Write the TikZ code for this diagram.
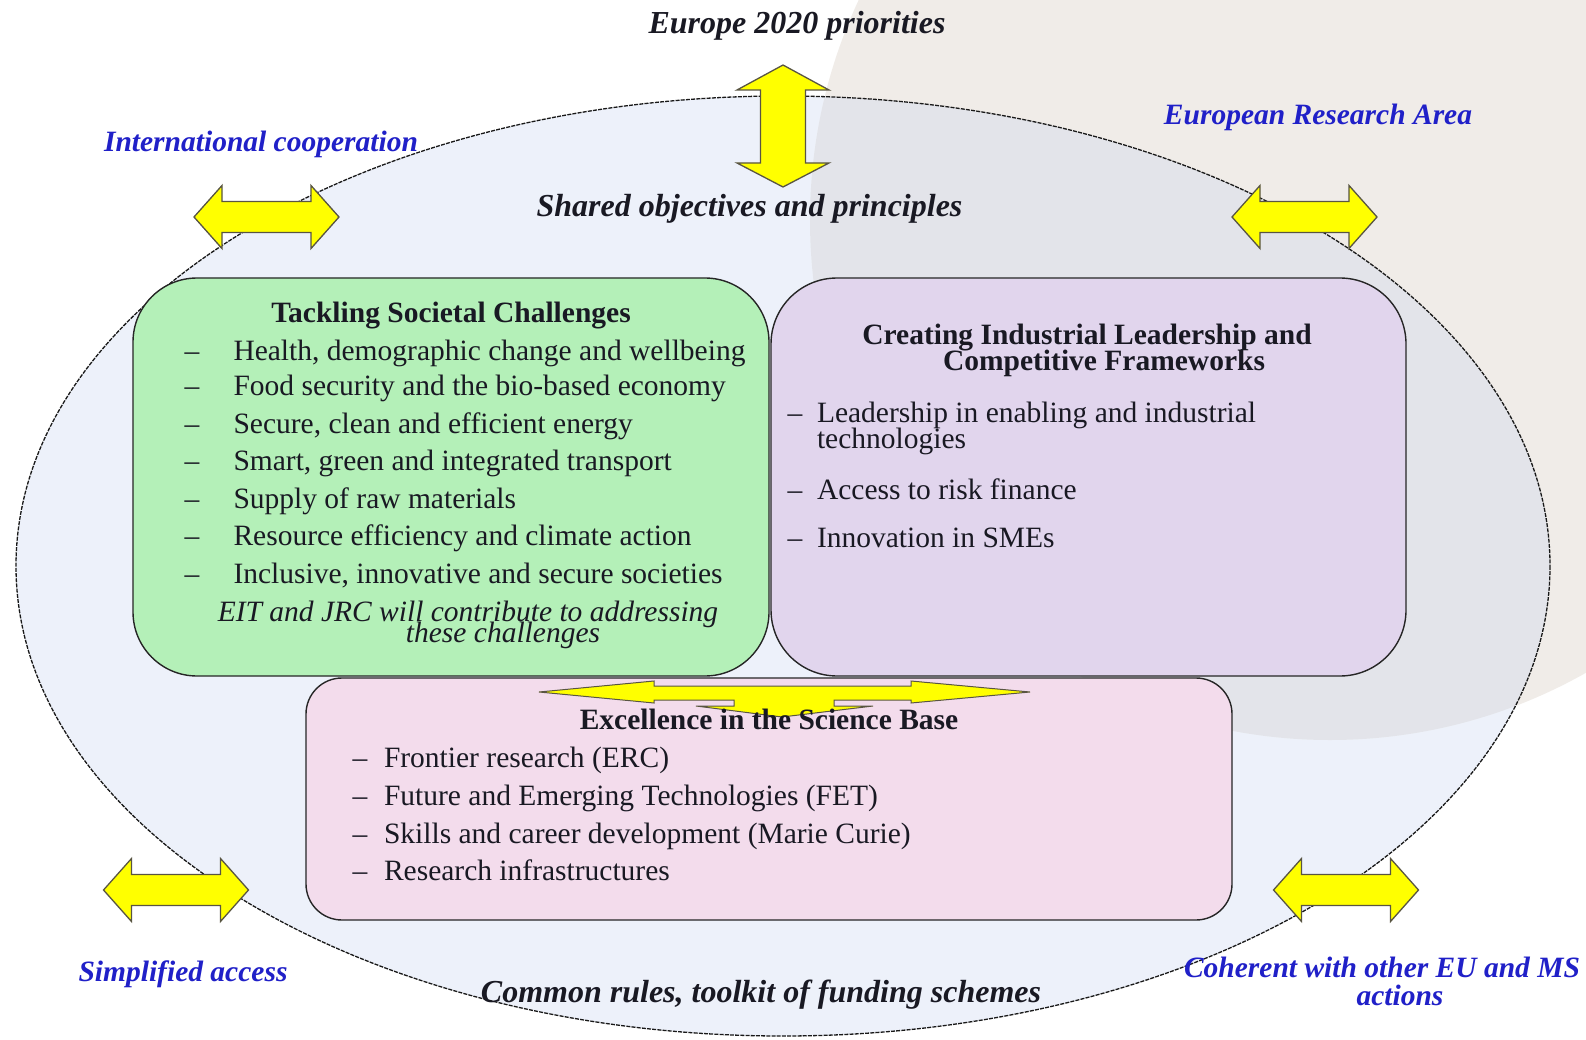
\documentclass[tikz,border=0pt]{standalone}
\usepackage{fontspec}
\setmainfont{Liberation Serif}
\definecolor{beige}{RGB}{240,236,232}
\definecolor{ellfill}{RGB}{200,213,239}
\definecolor{greenbox}{RGB}{180,240,184}
\definecolor{purplebox}{RGB}{225,213,237}
\definecolor{pinkbox}{RGB}{243,220,236}
\definecolor{labelblue}{RGB}{32,32,200}
\definecolor{arrowyellow}{RGB}{255,255,0}
\definecolor{ink}{RGB}{25,25,35}
\begin{document}
\begin{tikzpicture}[x=1pt,y=-1pt,
  every node/.style={inner sep=0pt, outer sep=0pt},
  yarrow/.style={fill=arrowyellow, draw=black!75!yellow, line width=1.3pt, line join=miter},
  box/.style={draw=black!85, line width=1.4pt},
  bodytext/.style={font=\fontsize{29.5}{37}\selectfont, text=ink, anchor=base west},
  dashmark/.style={font=\fontsize{29.5}{37}\selectfont, text=ink, anchor=base},
  boxtitle/.style={font=\bfseries\fontsize{29.5}{25}\selectfont, text=ink, anchor=base},
  note/.style={font=\itshape\fontsize{29.5}{25}\selectfont, text=ink, anchor=base},
  bluelabel/.style={font=\bfseries\itshape\fontsize{29.5}{28}\selectfont, text=labelblue, anchor=base},
  biglabel/.style={font=\bfseries\itshape\fontsize{32}{36}\selectfont, text=ink, anchor=base},
  hdouble/.pic={\draw[yarrow] (-72.5,0) -- (-44.5,-31.5) -- (-44.5,-15.5) -- (44.5,-15.5) -- (44.5,-31.5) -- (72.5,0) -- (44.5,31.5) -- (44.5,15.5) -- (-44.5,15.5) -- (-44.5,31.5) -- cycle;}
]
% canvas
\fill[white] (0,0) rectangle (1586,1040);
\useasboundingbox (0,0) rectangle (1586,1040);
\begin{scope}
\clip (0,0) rectangle (1586,1040);
\fill[beige] (1330,220) circle [radius=520];
\end{scope}

% big ellipse
\fill[ellfill, fill opacity=0.31] (783,566) ellipse [x radius=767, y radius=470];
\draw[black!90, line width=1.3pt, dash pattern=on 4pt off 1.2pt] (783,566) ellipse [x radius=767, y radius=470];

% outer double arrows
\pic at (266.5,217) {hdouble};
\pic at (1304.5,217) {hdouble};
\pic at (176,890) {hdouble};
\pic at (1346,890) {hdouble};
\draw[yarrow] (783,65) -- (829,90) -- (805.5,90) -- (805.5,163) -- (829,163) -- (783,187) -- (737,163) -- (760.5,163) -- (760.5,90) -- (737,90) -- cycle;

% boxes
\node[box, fill=greenbox, rounded corners=64pt, minimum width=636pt, minimum height=398pt, anchor=north west] (green) at (133,278) {};
\node[box, fill=purplebox, rounded corners=66pt, minimum width=635pt, minimum height=398pt, anchor=north west] (purple) at (771,278) {};
\node[box, fill=pinkbox, rounded corners=36pt, minimum width=926pt, minimum height=242pt, anchor=north west] (pink) at (306,678) {};

% central three-way arrow
\draw[yarrow, line width=1pt] (539,692) -- (654,681) -- (654,686) -- (911,686) -- (911,681) -- (1030,692) -- (911,703) -- (911,700) -- (834,700) -- (834,706) -- (873,706) -- (782,717) -- (696,706) -- (734,706) -- (734,700) -- (654,700) -- (654,703) -- cycle;

% outer labels
\node[biglabel] (e2020) at (797,34) {Europe 2020 priorities};
\node[biglabel] (shared) at (749.5,217) {Shared objectives and principles};
\node[biglabel] (common) at (761,1002) {Common rules, toolkit of funding schemes};
\node[bluelabel] (intl) at (261,151.5) {International cooperation};
\node[bluelabel] (era) at (1318,125) {European Research Area};
\node[bluelabel] (simpl) at (183,981) {Simplified access};
\node[bluelabel] (coh1) at (1382,977) {Coherent with other EU and MS};
\node[bluelabel] (coh2) at (1400,1005) {actions};

% green box contents
\node[boxtitle] (tsc) at (451,323) {Tackling Societal Challenges};
\foreach \y/\t [count=\i] in {
  352/{Health, demographic change and wellbeing},
  387.4/{Food security and the bio-based economy},
  424.8/{Secure, clean and efficient energy},
  462.3/{Smart, green and integrated transport},
  499.7/{Supply of raw materials},
  537.1/{Resource efficiency and climate action},
  574.5/{Inclusive, innovative and secure societies}}{
  \node[dashmark] (gd\i) at (192,\y+8.5) {–};
  \node[bodytext] (gt\i) at (233.5,\y+8.5) {\t};
}
\node[note] (eit1) at (468,621.5) {EIT and JRC will contribute to addressing};
\node[note] (eit2) at (503,642.5) {these challenges};

% purple box contents
\node[boxtitle] (cil1) at (1087,344.5) {Creating Industrial Leadership and};
\node[boxtitle] (cil2) at (1104,370) {Competitive Frameworks};
\node[dashmark] (pd1) at (795,422) {–};
\node[bodytext] (pt1) at (817,422) {Leadership in enabling and industrial};
\node[bodytext] (pt1b) at (817,448.5) {technologies};
\node[dashmark] (pd2) at (795,499) {–};
\node[bodytext] (pt2) at (817,499) {Access to risk finance};
\node[dashmark] (pd3) at (795,547.5) {–};
\node[bodytext] (pt3) at (817,547.5) {Innovation in SMEs};

% pink box contents
\node[boxtitle] (esb) at (769,729.5) {Excellence in the Science Base};
\foreach \y/\t [count=\i] in {
  758.6/{Frontier research (ERC)},
  797/{Future and Emerging Technologies (FET)},
  834.5/{Skills and career development (Marie Curie)},
  872/{Research infrastructures}}{
  \node[dashmark] (kd\i) at (360,\y+8.5) {–};
  \node[bodytext] (kt\i) at (384,\y+8.5) {\t};
}
\end{tikzpicture}
\end{document}
